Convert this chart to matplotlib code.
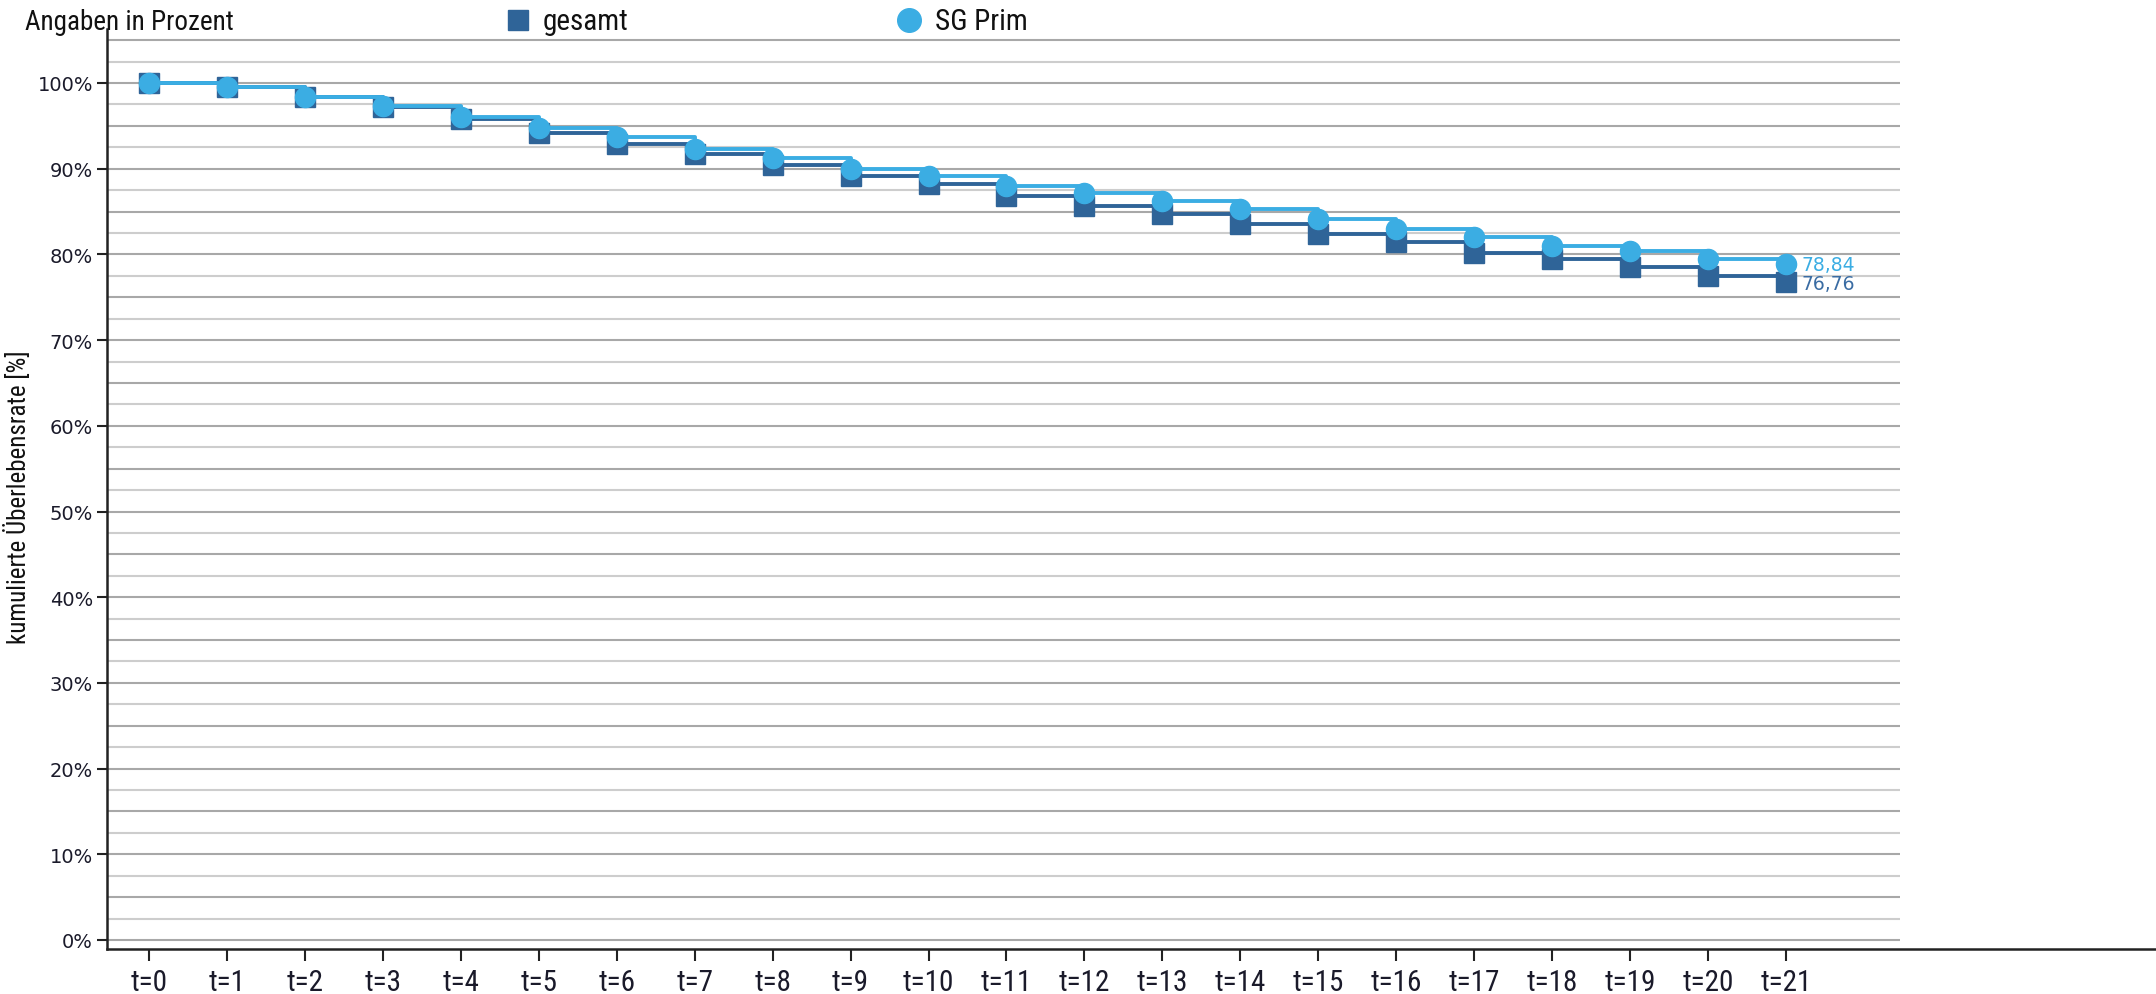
import matplotlib
matplotlib.use("Agg")
import matplotlib.pyplot as plt
from matplotlib.lines import Line2D
from matplotlib import font_manager

# ---- data ----
t_labels = [f"t={i}" for i in range(22)]
gesamt = [100, 99.5, 98.4, 97.2, 95.8, 94.2, 92.9, 91.7, 90.4, 89.2, 88.2,
          86.8, 85.7, 84.7, 83.5, 82.4, 81.5, 80.2, 79.5, 78.5, 77.5, 76.76]
sg_prim = [100, 99.5, 98.4, 97.3, 96.0, 94.8, 93.7, 92.3, 91.3, 90.0, 89.2,
           88.0, 87.2, 86.2, 85.3, 84.1, 83.0, 82.0, 81.0, 80.4, 79.5, 78.84]
series_names = ["gesamt", "SG Prim"]
end_labels = ["76,76", "78,84"]
yticks = list(range(0, 101, 10))
grid_vals = [i * 2.5 for i in range(43)]

# ---- style ----
W, H = 2156, 995
DARK = "#2f6498"
LIGHT = "#3badE3"

available = {f.name for f in font_manager.fontManager.ttflist}
NARROW = [f for f in ["Liberation Sans Narrow", "DejaVu Sans Condensed",
                      "Roboto Condensed", "Open Sans Condensed", "Roboto"]
          if f in available] + ["DejaVu Sans"]
NARROW_STRETCH = "condensed"

fig = plt.figure(figsize=(W / 100, H / 100), dpi=100)

def px2fx(x):
    return x / W

def px2fy(y):
    return 1 - y / H

ax_left, ax_right, ax_top, ax_bottom = 107, 2156, 30, 950
ax = fig.add_axes([px2fx(ax_left), px2fy(ax_bottom),
                   (ax_right - ax_left) / W, (ax_bottom - ax_top) / H])

t0_px, step_px = 149, 77.95
xl = (ax_left - t0_px) / step_px
xr = (ax_right - t0_px) / step_px
x_grid_end = (1900 - t0_px) / step_px

px_per_pct = 8.57
y0_px = 941
yb = (y0_px - ax_bottom) / px_per_pct
yt = (y0_px - ax_top) / px_per_pct
ax.set_xlim(xl, xr)
ax.set_ylim(yb, yt)

# grid lines
for g in grid_vals:
    col = "#a8a8a8" if abs(g % 5) < 1e-9 else "#cdcdcd"
    ax.hlines(g, xl, x_grid_end, colors=col, linewidth=1.5, zorder=0.5)

x = list(range(len(t_labels)))
ax.step(x, gesamt, where="post", color=DARK, linewidth=2.8, zorder=2)
ax.plot(x, gesamt, linestyle="none", marker="s", markersize=14,
        color=DARK, zorder=3)
ax.step(x, sg_prim, where="post", color=LIGHT, linewidth=2.8, zorder=4)
ax.plot(x, sg_prim, linestyle="none", marker="o", markersize=14.5,
        color=LIGHT, zorder=5)

# end labels
ax.annotate(end_labels[1], (x[-1], sg_prim[-1]), xytext=(11, 0),
            textcoords="offset points", va="center", ha="left",
            color=LIGHT, fontsize=13.5, family="DejaVu Sans")
ax.annotate(end_labels[0], (x[-1], gesamt[-1]), xytext=(11, -1),
            textcoords="offset points", va="center", ha="left",
            color="#3a6ca3", fontsize=13.5, family="DejaVu Sans")

# axes styling
for s in ["top", "right"]:
    ax.spines[s].set_visible(False)
for s in ["left", "bottom"]:
    ax.spines[s].set_color("#222222")
    ax.spines[s].set_linewidth(1.8)

ax.set_yticks(yticks)
ax.set_yticklabels([f"{v}%" for v in yticks], fontsize=14,
                   family="DejaVu Sans", color="#1a1a2a")
ax.set_xticks(x)
ax.set_xticklabels(t_labels, fontsize=21, family=NARROW,
                   stretch=NARROW_STRETCH, color="#1a1a2a")
ax.tick_params(axis="y", length=7, width=1.5, color="#222222", pad=3)
ax.tick_params(axis="x", length=8.5, width=1.5, color="#222222", pad=5)
ax.set_facecolor("white")

# header and axis title
fig.text(px2fx(25), px2fy(22), "Angaben in Prozent", fontsize=19.5,
         family=NARROW, stretch=NARROW_STRETCH, va="center", ha="left",
         color="#111111")
fig.text(px2fx(18), px2fy(497), "kumulierte Überlebensrate [%]",
         rotation=90, fontsize=18, family=NARROW, stretch=NARROW_STRETCH,
         va="center", ha="center", color="#111111")

# legend (manual)
fig.add_artist(Line2D([px2fx(518)], [px2fy(21)], marker="s", markersize=15,
                      color=DARK, linestyle="none",
                      transform=fig.transFigure))
fig.text(px2fx(543), px2fy(22), series_names[0], fontsize=21, family=NARROW,
         stretch=NARROW_STRETCH, va="center", ha="left", color="#111111")
fig.add_artist(Line2D([px2fx(909)], [px2fy(21)], marker="o", markersize=17,
                      color=LIGHT, linestyle="none",
                      transform=fig.transFigure))
fig.text(px2fx(935), px2fy(22), series_names[1], fontsize=21, family=NARROW,
         stretch=NARROW_STRETCH, va="center", ha="left", color="#111111")

fig.savefig("out.png", dpi=100, facecolor="white")
